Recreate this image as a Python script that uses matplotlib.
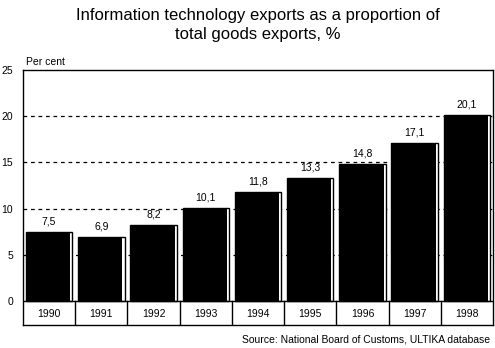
import matplotlib
matplotlib.use('Agg')
from matplotlib import pyplot as plt
import numpy as np

years = ['1990', '1991', '1992', '1993', '1994', '1995', '1996', '1997', '1998']
shares = [7.5, 6.9, 8.2, 10.1, 11.8, 13.3, 14.8, 17.1, 20.1]
y_ticks = [0, 5, 10, 15, 20, 25]

plt.rcParams['font.family'] = ['Liberation Sans', 'DejaVu Sans']

fig = plt.figure(figsize=(4.95, 3.48), dpi=100)
# axes span from the top of the frame down to the bottom of the year row
ax = fig.add_axes([23 / 495, 1 - 325 / 348, 470 / 495, 255 / 348])

top = 25
bottom = -(325 - 301) * top / (301 - 70)
ax.set_ylim(bottom, top)
ax.set_xlim(-0.5, len(years) - 0.5)

x = np.arange(len(years))

# dashed gridlines
for t in y_ticks[1:-1]:
    ax.axhline(t, color='black', lw=0.9, ls=(0, (3, 3)), zorder=1)

# bars: outlined shell plus black fill, gives the little shadow edge
ax.bar(x, shares, width=0.89, color='white', edgecolor='black', lw=1, zorder=2)
ax.bar(x - 0.02, shares, width=0.85, color='black', lw=0, zorder=3)

for xi, v in zip(x, shares):
    ax.text(xi, v + 0.6, f'{v:.1f}'.replace('.', ','), ha='center', va='bottom',
            fontsize=7.5)

# year row under the plot
ax.axhline(0, color='black', lw=1, zorder=4)
for b in np.arange(0.5, len(years) - 1, 1):
    ax.plot([b, b], [bottom, 0], color='black', lw=1, zorder=4)
for xi, yr in zip(x, years):
    ax.text(xi, bottom * 0.55, yr, ha='center', va='center', fontsize=7.5)

ax.set_yticks(y_ticks)
ax.set_yticklabels([str(t) for t in y_ticks], fontsize=7.5)
ax.tick_params(axis='y', length=0, pad=7)
ax.set_xticks([])
for s in ax.spines.values():
    s.set_linewidth(1)

fig.text(258 / 495, 1 - 25 / 348, 'Information technology exports as a proportion of\ntotal goods exports, %',
         ha='center', va='center', fontsize=12, linespacing=1.3)
fig.text(26 / 495, 1 - 62 / 348, 'Per cent', ha='left', va='center', fontsize=7.5)
fig.text(490 / 495, 1 - 340 / 348, 'Source: National Board of Customs, ULTIKA database',
         ha='right', va='center', fontsize=7.5)

fig.savefig('out.png', dpi=100)
